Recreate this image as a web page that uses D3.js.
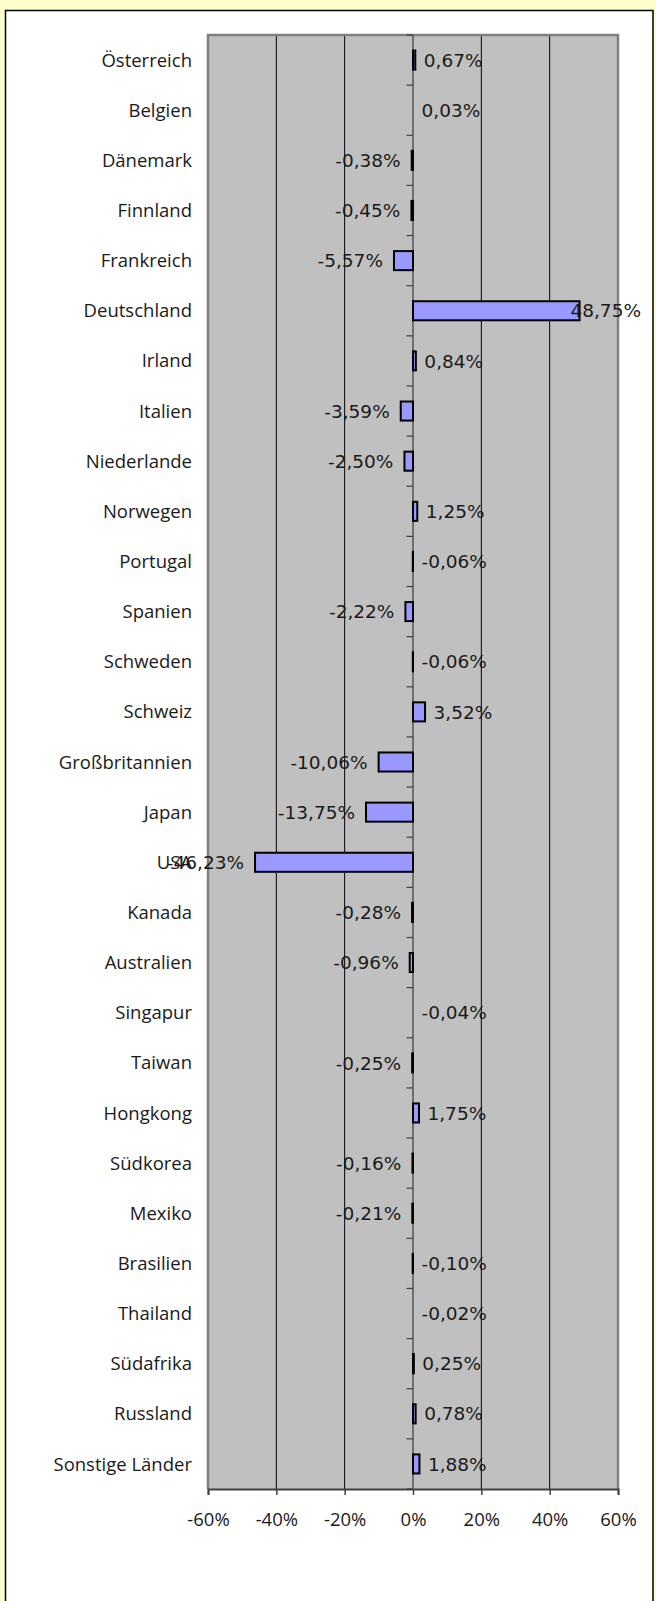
<!DOCTYPE html>
<html>
<head>
<meta charset="utf-8">
<script src="https://cdn.jsdelivr.net/npm/d3@7"></script>
<style>
  html, body { margin: 0; padding: 0; background: #ffffcc; }
  svg { display: block; }
</style>
</head>
<body>
<script>
const categories = ["Österreich","Belgien","Dänemark","Finnland","Frankreich","Deutschland","Irland","Italien","Niederlande","Norwegen","Portugal","Spanien","Schweden","Schweiz","Großbritannien","Japan","USA","Kanada","Australien","Singapur","Taiwan","Hongkong","Südkorea","Mexiko","Brasilien","Thailand","Südafrika","Russland","Sonstige Länder"];
const values = [0.67,0.03,-0.38,-0.45,-5.57,48.75,0.84,-3.59,-2.50,1.25,-0.06,-2.22,-0.06,3.52,-10.06,-13.75,-46.23,-0.28,-0.96,-0.04,-0.25,1.75,-0.16,-0.21,-0.10,-0.02,0.25,0.78,1.88];
const tickValues = [-60,-40,-20,0,20,40,60];

(function(){
const W = 656, H = 1601;
const svg = d3.select("body").append("svg").attr("width", W).attr("height", H);

// background panel
svg.append("rect").attr("x",0).attr("y",0).attr("width",W).attr("height",H).attr("fill","#ffffcc");
svg.append("rect").attr("x",5.5).attr("y",10.5).attr("width",647.5).attr("height",H+20)
  .attr("fill","#ffffff").attr("stroke","#000").attr("stroke-width",1.5);

const pL = 208, pR = 618, pT = 35, pB = 1489;
const x = d3.scaleLinear().domain([-60,60]).range([pL,pR]);
const y = d3.scaleBand().domain(categories).range([pT,pB]).paddingInner(0).paddingOuter(0);
const bw = y.bandwidth();
const barH = bw * 0.38;

// plot area
svg.append("rect").attr("x",pL).attr("y",pT).attr("width",pR-pL).attr("height",pB-pT)
  .attr("fill","#c0c0c0");

// gridlines
svg.append("g").selectAll("line").data(tickValues.filter(t => t!==0 && t!==-60 && t!==60)).join("line")
  .attr("x1",d=>x(d)).attr("x2",d=>x(d)).attr("y1",pT).attr("y2",pB)
  .attr("stroke","#000").attr("stroke-width",1);

// plot border (left, top, right)
svg.append("path")
  .attr("d",`M${pL},${pB} V${pT} H${pR} V${pB}`)
  .attr("fill","none").attr("stroke","#808080").attr("stroke-width",2.5);

// bottom axis
const xAxis = d3.axisBottom(x).tickValues(tickValues).tickSize(6).tickFormat(d => d + "%");
const gx = svg.append("g").attr("transform",`translate(0,${pB})`).call(xAxis);
gx.select(".domain").attr("stroke","#404040").attr("stroke-width",2);
gx.selectAll(".tick line").attr("stroke","#404040").attr("stroke-width",1.5);
gx.selectAll(".tick text").attr("font-family","'Open Sans', sans-serif").attr("font-size","18.5px")
  .attr("fill","#1a1a1a").attr("dy",null).attr("y",36.5);

// zero axis with ticks between categories
const x0 = x(0);
svg.append("line").attr("x1",x0).attr("x2",x0).attr("y1",pT).attr("y2",pB)
  .attr("stroke","#555").attr("stroke-width",1.5);
const boundaries = categories.map(c => y(c)).concat([pB]);
svg.append("g").selectAll("line").data(boundaries).join("line")
  .attr("x1",x0-6.5).attr("x2",x0).attr("y1",d=>d).attr("y2",d=>d)
  .attr("stroke","#404040").attr("stroke-width",1.2);

// bars
const data = categories.map((c,i) => ({c, v: values[i]}));
svg.append("g").selectAll("rect").data(data.filter(d => Math.abs(d.v) >= 0.05)).join("rect")
  .attr("x", d => Math.min(x(d.v), x0))
  .attr("y", d => y(d.c) + bw/2 - barH/2)
  .attr("width", d => Math.abs(x(d.v) - x0))
  .attr("height", barH)
  .attr("fill","#9999ff").attr("stroke","#000").attr("stroke-width",2);

// category labels
svg.append("g").selectAll("text").data(categories).join("text")
  .attr("x", 192).attr("y", d => y(d) + bw/2 + 6.6)
  .attr("text-anchor","end")
  .attr("font-family","'Open Sans', sans-serif").attr("font-size","18.5px").attr("fill","#1a1a1a")
  .text(d => d);

// value labels
const fmt = v => v.toFixed(2).replace(".", ",") + "%";
const labelFont = 18.5;
const vl = svg.append("g").selectAll("text").data(data).join("text")
  .attr("font-family","'DejaVu Sans', sans-serif").attr("font-size",labelFont+"px").attr("fill","#1a1a1a")
  .attr("y", d => y(d.c) + bw/2 + 6.7)
  .text(d => fmt(d.v));
vl.each(function(d){
  const t = d3.select(this);
  const onRight = d.v > -0.15;
  if (onRight) {
    const xs = Math.max(x(d.v), x0) + 8.5;
    const w = this.getComputedTextLength();
    if (xs + w > 641) {
      t.attr("x", 641).attr("text-anchor","end");
    } else {
      t.attr("x", xs).attr("text-anchor","start");
    }
  } else {
    t.attr("x", x(d.v) - 11).attr("text-anchor","end");
  }
});
})();
</script>
</body>
</html>
